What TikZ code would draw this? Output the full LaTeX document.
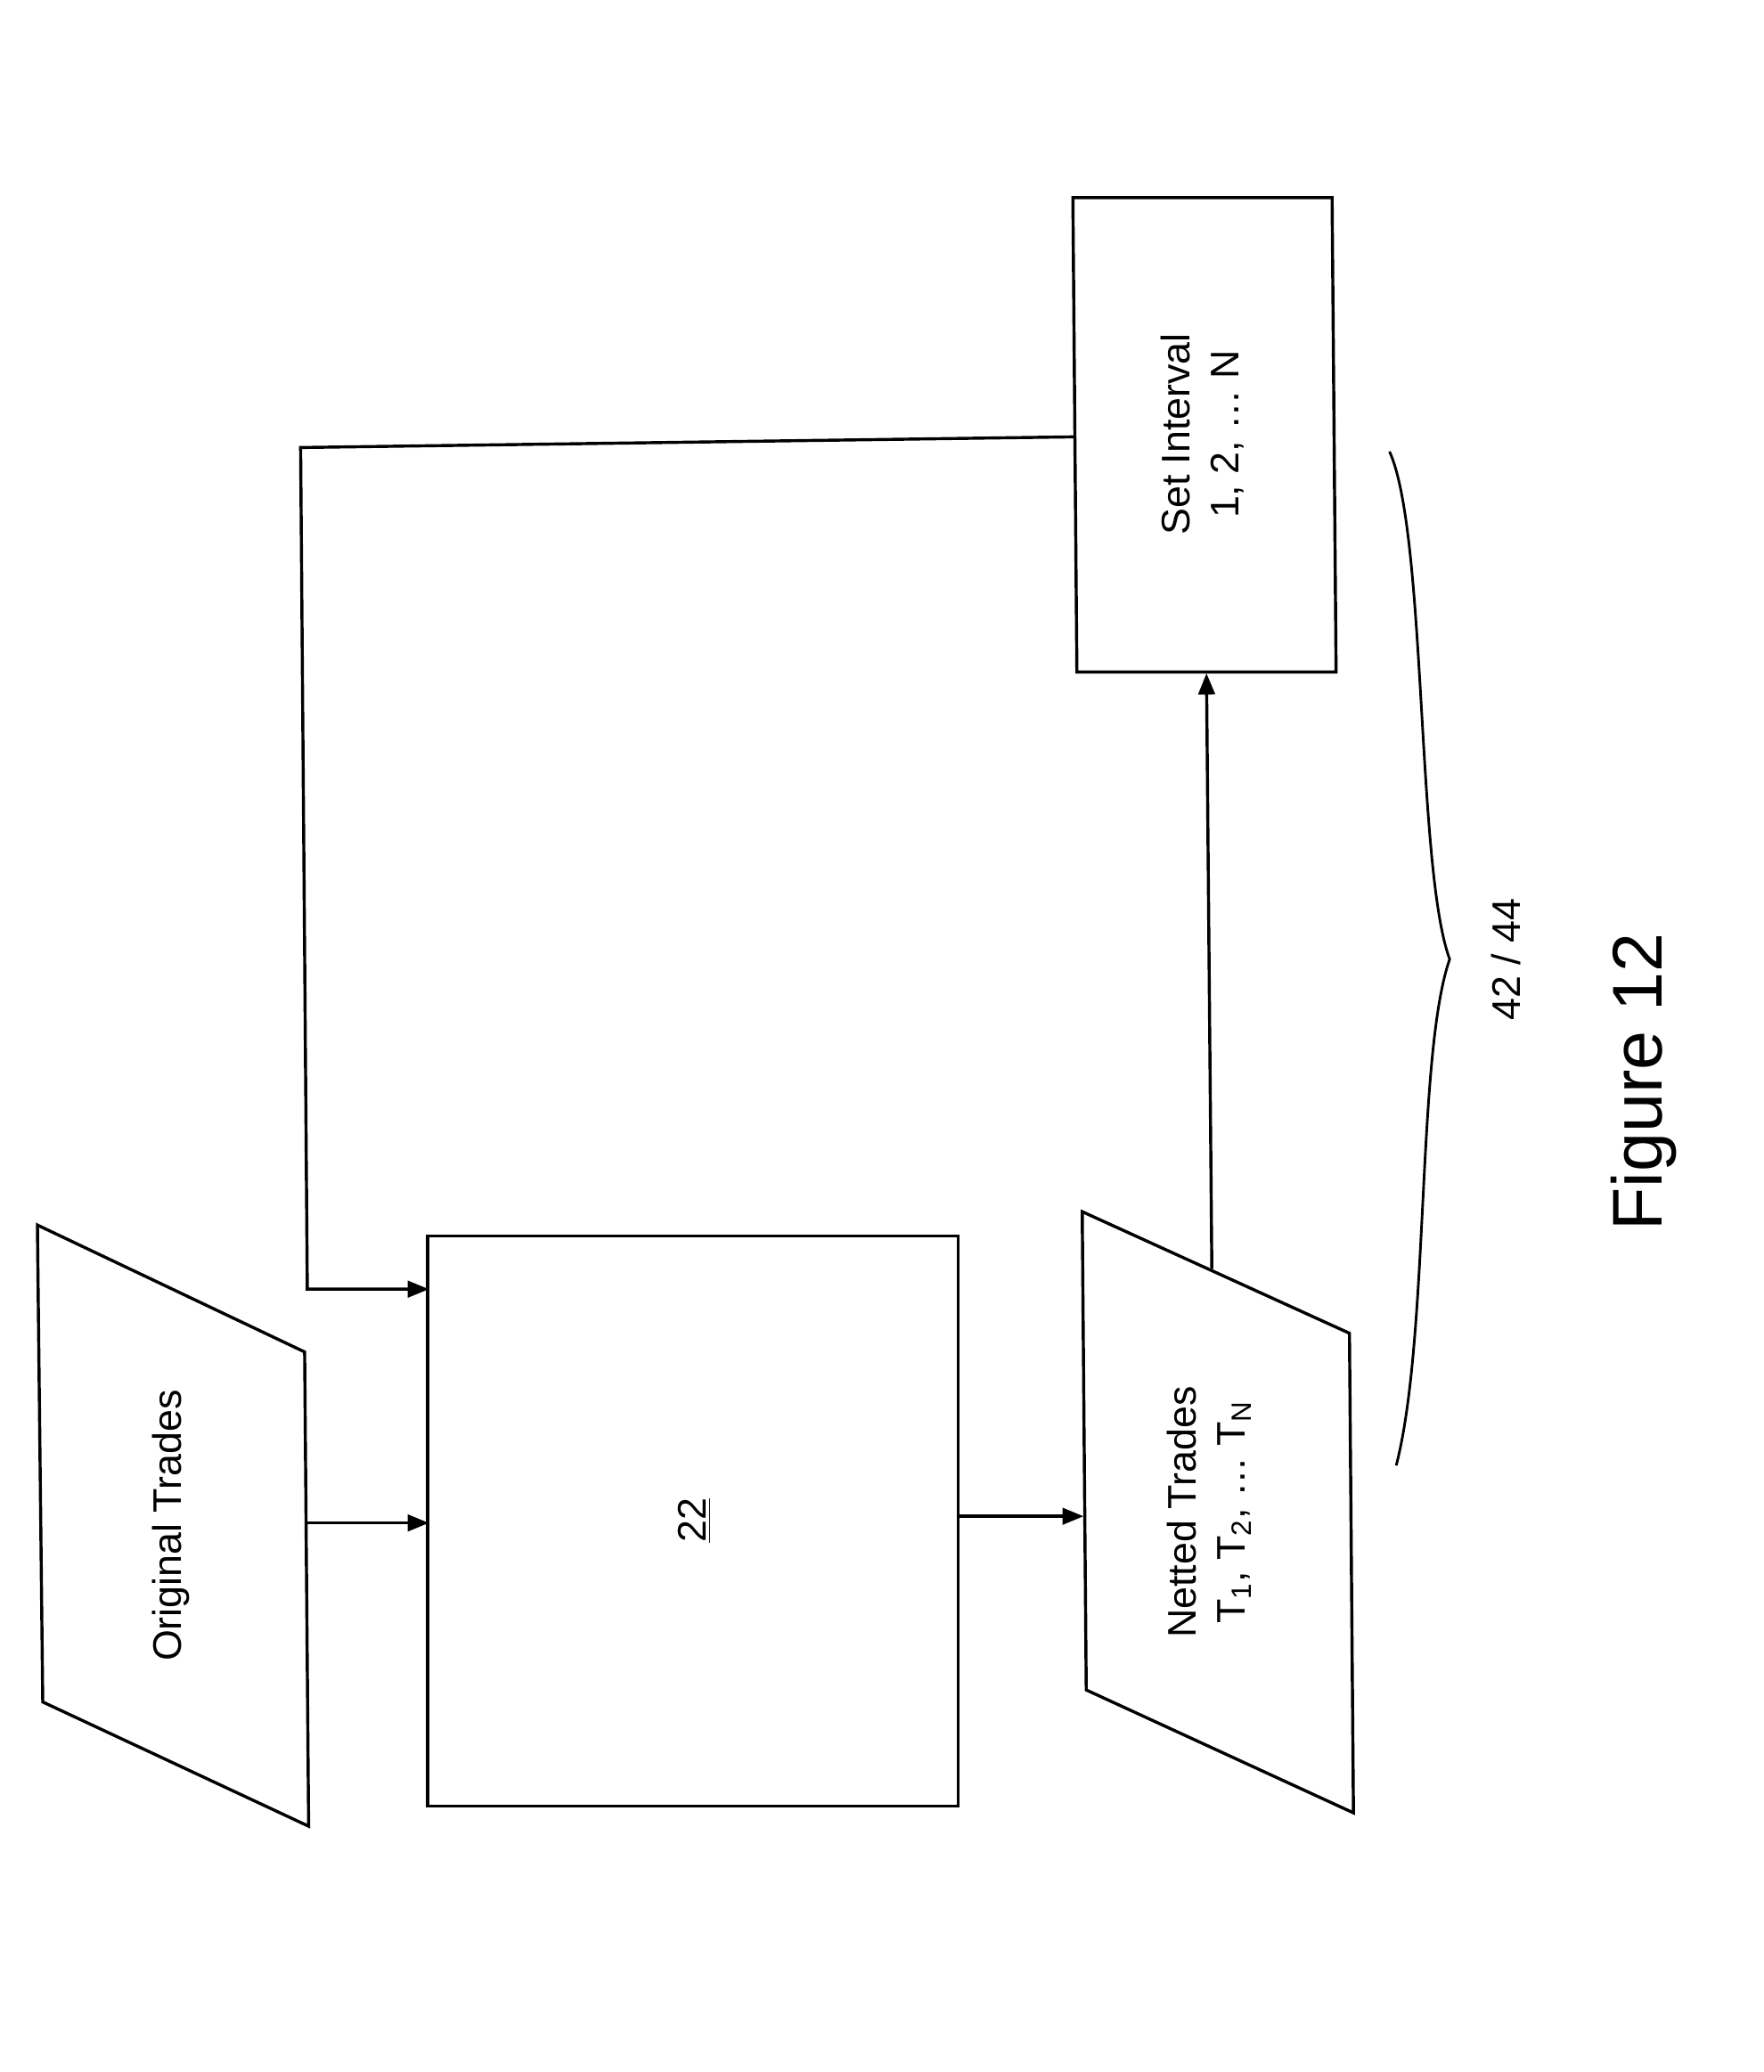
\documentclass[tikz,border=0pt]{standalone}
\usepackage{fontspec}
\setmainfont{Liberation Sans}
\usetikzlibrary{arrows.meta}
\begin{document}
\begin{tikzpicture}[x=0.02cm,y=-0.02cm,line width=1.3pt,
  lbl/.style={font=\fontsize{17}{21}\selectfont,rotate=90,align=center},
  arr/.style={-{Triangle[length=9pt,width=7pt]}}]
\useasboundingbox (0,0) rectangle (1320,1551);
\draw (28,917) -- (228,1012) -- (231,1367) -- (32,1274) -- cycle;
\node[lbl] (ot) at (128,1142) {Original Trades};
\draw (320,925) rectangle (717,1352);
\node[lbl] (b22) at (520,1138) {\underline{22}};
\draw (810,907) -- (1010,998) -- (1013,1357) -- (813,1265) -- cycle;
\node[lbl] (nt) at (905,1132) {Netted Trades\\T\textsubscript{1}, T\textsubscript{2}, \dots\ T\textsubscript{N}};
\draw (803,148) -- (997,148) -- (1000,503) -- (806,503) -- cycle;
\node[lbl] (si) at (900,325) {Set Interval\\1, 2, \dots\ N};
\coordinate (a1) at (229,1140); \coordinate (a2) at (321,1140);
\draw[arr] (a1) -- (a2);
\coordinate (b1) at (717,1135); \coordinate (b2) at (811,1135);
\draw[arr] (b1) -- (b2);
\coordinate (c1) at (907,950); \coordinate (c2) at (903,504);
\draw[arr] (c1) -- (c2);
\coordinate (d1) at (804,327); \coordinate (d2) at (225,335); \coordinate (d3) at (230,965); \coordinate (d4) at (321,965);
\draw[arr] (d1) -- (d2) -- (d3) -- (d4);
\draw[line width=1.1pt] (1040,338) .. controls (1068,400) and (1060,650) .. (1085,718) .. controls (1060,790) and (1070,1000) .. (1045,1097);
\node[lbl] (lab) at (1127,718) {42 / 44};
\node[rotate=90,font=\fontsize{30}{36}\selectfont] (fig) at (1230,810) {Figure 12};
\end{tikzpicture}
\end{document}
